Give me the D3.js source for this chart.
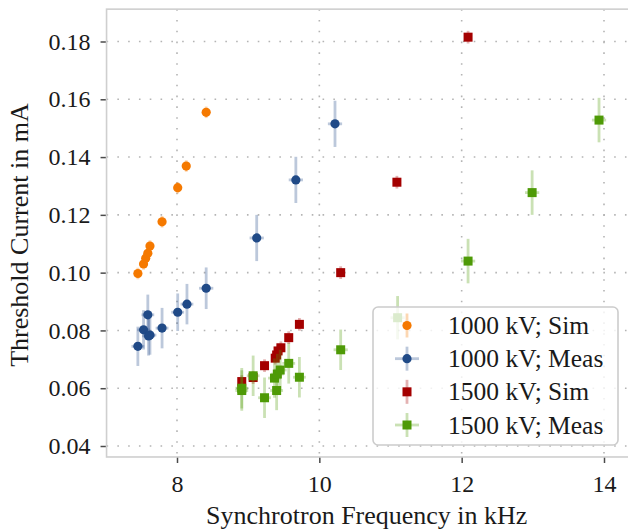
<!DOCTYPE html>
<html>
<head>
<meta charset="utf-8">
<script src="https://cdn.jsdelivr.net/npm/d3@7"></script>
<style>
  html, body { margin: 0; padding: 0; background: #fff; }
  svg { display: block; }
  text { font-family: "Liberation Serif", "DejaVu Serif", serif; fill: #1a1a1a; }
</style>
</head>
<body>
<svg id="chart" width="628" height="531"></svg>
<script>
// Threshold current vs synchrotron frequency, 1000 kV and 1500 kV,
// simulation and measurement.

// 1000 kV; Sim
const sim1000Freq = [7.45, 7.53, 7.56, 7.59, 7.62, 7.79, 8.01, 8.13, 8.41];
const sim1000Curr = [0.0997, 0.1030, 0.1050, 0.1067, 0.1092, 0.1176, 0.1294, 0.1369, 0.1555];
const sim1000CurrErr = [0.002, 0.002, 0.002, 0.002, 0.002, 0.002, 0.002, 0.002, 0.002];

// 1000 kV; Meas
const meas1000Freq = [7.45, 7.53, 7.59, 7.60, 7.62, 7.79, 8.01, 8.14, 8.41, 9.12, 9.67, 10.22];
const meas1000Curr = [0.0745, 0.0802, 0.0854, 0.0781, 0.0784, 0.0808, 0.0863, 0.0891, 0.0946, 0.1120, 0.1321, 0.1515];
const meas1000FreqErr = [0.09, 0.09, 0.09, 0.09, 0.09, 0.09, 0.09, 0.09, 0.10, 0.10, 0.10, 0.10];
const meas1000CurrErr = [0.0068, 0.0068, 0.0070, 0.0068, 0.0068, 0.0070, 0.0065, 0.0070, 0.0072, 0.0080, 0.0080, 0.0080];

// 1500 kV; Sim
const sim1500Freq = [8.91, 9.07, 9.23, 9.38, 9.40, 9.42, 9.46, 9.57, 9.72, 10.30, 11.09, 12.09];
const sim1500Curr = [0.0623, 0.0637, 0.0678, 0.0704, 0.0715, 0.0729, 0.0740, 0.0775, 0.0821, 0.1000, 0.1313, 0.1815];
const sim1500CurrErr = [0.0022, 0.0022, 0.0022, 0.0022, 0.0022, 0.0022, 0.0022, 0.0022, 0.0022, 0.0022, 0.0022, 0.0022];

// 1500 kV; Meas
const meas1500Freq = [8.91, 8.91, 9.07, 9.23, 9.37, 9.40, 9.41, 9.45, 9.57, 9.72, 10.30, 11.10, 12.09, 12.99, 13.93];
const meas1500Curr = [0.0600, 0.0592, 0.0643, 0.0567, 0.0635, 0.0592, 0.0649, 0.0663, 0.0686, 0.0638, 0.0733, 0.0844, 0.1040, 0.1277, 0.1528];
const meas1500FreqErr = [0.09, 0.09, 0.09, 0.09, 0.09, 0.09, 0.09, 0.09, 0.09, 0.09, 0.10, 0.10, 0.10, 0.10, 0.10];
const meas1500CurrErr = [0.0070, 0.0070, 0.0070, 0.0070, 0.0068, 0.0068, 0.0070, 0.0070, 0.0070, 0.0070, 0.0070, 0.0075, 0.0077, 0.0077, 0.0077];

// Axis ticks and limits
const xTicks = [8, 10, 12, 14];
const yTicks = [0.04, 0.06, 0.08, 0.10, 0.12, 0.14, 0.16, 0.18];
const xLimits = [7.01, 14.35];
const yLimits = [0.0362, 0.1912];

const xLabel = "Synchrotron Frequency in kHz";
const yLabel = "Threshold Current in mA";

const seriesNames = ["1000 kV; Sim", "1000 kV; Meas", "1500 kV; Sim", "1500 kV; Meas"];
const seriesColors = ["#f57900", "#204a87", "#a40000", "#4e9a06"];

const series = [
  { name: seriesNames[0], color: seriesColors[0], shape: "circle",
    x: sim1000Freq, y: sim1000Curr, xe: null, ye: sim1000CurrErr },
  { name: seriesNames[1], color: seriesColors[1], shape: "circle",
    x: meas1000Freq, y: meas1000Curr, xe: meas1000FreqErr, ye: meas1000CurrErr },
  { name: seriesNames[2], color: seriesColors[2], shape: "square",
    x: sim1500Freq, y: sim1500Curr, xe: null, ye: sim1500CurrErr },
  { name: seriesNames[3], color: seriesColors[3], shape: "square",
    x: meas1500Freq, y: meas1500Curr, xe: meas1500FreqErr, ye: meas1500CurrErr }
];

const svg = d3.select("#chart");

const x = d3.scaleLinear().domain([8, 14]).range([177, 604]);
const y = d3.scaleLinear().domain([0.04, 0.18]).range([446, 41.5]);

const plotLeft = x(xLimits[0]), plotRight = x(xLimits[1]);
const plotTop = y(yLimits[1]), plotBottom = y(yLimits[0]);

const fontSize = 24;

// dotted grid
const grid = svg.append("g");
grid.selectAll("line.gx").data(xTicks).join("line")
  .attr("x1", d => x(d)).attr("x2", d => x(d))
  .attr("y1", plotTop).attr("y2", plotBottom)
  .attr("stroke", "#b4b4b4").attr("stroke-width", 1.6)
  .attr("stroke-dasharray", "1.6 9.2");
grid.selectAll("line.gy").data(yTicks).join("line")
  .attr("y1", d => y(d)).attr("y2", d => y(d))
  .attr("x1", plotLeft).attr("x2", plotRight)
  .attr("stroke", "#b4b4b4").attr("stroke-width", 1.6)
  .attr("stroke-dasharray", "1.6 9.2");

// axes with outward ticks
const xAxis = d3.axisBottom(x).tickValues(xTicks).tickSize(6).tickPadding(12)
  .tickFormat(d3.format("d"));
const yAxis = d3.axisLeft(y).tickValues(yTicks).tickSize(6).tickPadding(10)
  .tickFormat(d3.format(".2f"));

const gx = svg.append("g").attr("transform", `translate(0,${plotBottom})`).call(xAxis);
const gy = svg.append("g").attr("transform", `translate(${plotLeft},0)`).call(yAxis);
[gx, gy].forEach(g => {
  g.select(".domain").remove();
  g.selectAll(".tick line").attr("stroke", "#4a4a4a").attr("stroke-width", 1.5);
  g.selectAll(".tick text").attr("font-size", fontSize)
    .attr("font-family", "Liberation Serif, serif").attr("fill", "#1a1a1a");
});

// frame
svg.append("rect")
  .attr("x", plotLeft).attr("y", plotTop)
  .attr("width", plotRight - plotLeft).attr("height", plotBottom - plotTop)
  .attr("fill", "none").attr("stroke", "#cfcfcf").attr("stroke-width", 1.6);

// axis titles
svg.append("text")
  .attr("x", (plotLeft + 627) / 2).attr("y", 524)
  .attr("text-anchor", "middle").attr("font-size", 26)
  .text(xLabel);
svg.append("text")
  .attr("transform", `translate(28,${(plotTop + plotBottom) / 2 + 2}) rotate(-90)`)
  .attr("text-anchor", "middle").attr("font-size", 26)
  .text(yLabel);

// data: error bars under markers, series drawn in order
const plot = svg.append("g");
const markR = 4.6, sq = 9;

series.forEach(s => {
  const g = plot.append("g");
  const idx = d3.range(s.x.length);
  if (s.xe) {
    g.selectAll("line.xe").data(idx).join("line")
      .attr("x1", i => x(s.x[i] - s.xe[i])).attr("x2", i => x(s.x[i] + s.xe[i]))
      .attr("y1", i => y(s.y[i])).attr("y2", i => y(s.y[i]))
      .attr("stroke", s.color).attr("stroke-opacity", 0.3).attr("stroke-width", 2.8);
  }
  g.selectAll("line.ye").data(idx).join("line")
    .attr("x1", i => x(s.x[i])).attr("x2", i => x(s.x[i]))
    .attr("y1", i => y(s.y[i] - s.ye[i])).attr("y2", i => y(s.y[i] + s.ye[i]))
    .attr("stroke", s.color).attr("stroke-opacity", 0.3).attr("stroke-width", 2.8);
  if (s.shape === "circle") {
    g.selectAll("circle").data(idx).join("circle")
      .attr("cx", i => x(s.x[i])).attr("cy", i => y(s.y[i])).attr("r", markR)
      .attr("fill", s.color);
  } else {
    g.selectAll("rect").data(idx).join("rect")
      .attr("x", i => x(s.x[i]) - sq / 2).attr("y", i => y(s.y[i]) - sq / 2)
      .attr("width", sq).attr("height", sq)
      .attr("fill", s.color);
  }
});

// legend
const legend = svg.append("g");
legend.append("rect")
  .attr("x", 373).attr("y", 307).attr("width", 245).attr("height", 138)
  .attr("rx", 5).attr("ry", 5)
  .attr("fill", "#fff").attr("fill-opacity", 0.8)
  .attr("stroke", "#cccccc").attr("stroke-width", 1.6);

const rowY = d3.scaleLinear().domain([0, 3]).range([325.5, 425]);
series.forEach((s, i) => {
  const cy = rowY(i), cx = 407, h = 12;
  const g = legend.append("g");
  if (s.xe) {
    g.append("line").attr("x1", cx - h).attr("x2", cx + h).attr("y1", cy).attr("y2", cy)
      .attr("stroke", s.color).attr("stroke-opacity", 0.3).attr("stroke-width", 2.8);
  }
  g.append("line").attr("x1", cx).attr("x2", cx).attr("y1", cy - h).attr("y2", cy + h)
    .attr("stroke", s.color).attr("stroke-opacity", 0.3).attr("stroke-width", 2.8);
  if (s.shape === "circle") {
    g.append("circle").attr("cx", cx).attr("cy", cy).attr("r", markR).attr("fill", s.color);
  } else {
    g.append("rect").attr("x", cx - sq / 2).attr("y", cy - sq / 2)
      .attr("width", sq).attr("height", sq).attr("fill", s.color);
  }
  g.append("text").attr("x", 448).attr("y", cy + 8.5)
    .attr("font-size", 25.5).text(s.name);
});
</script>
</body>
</html>
